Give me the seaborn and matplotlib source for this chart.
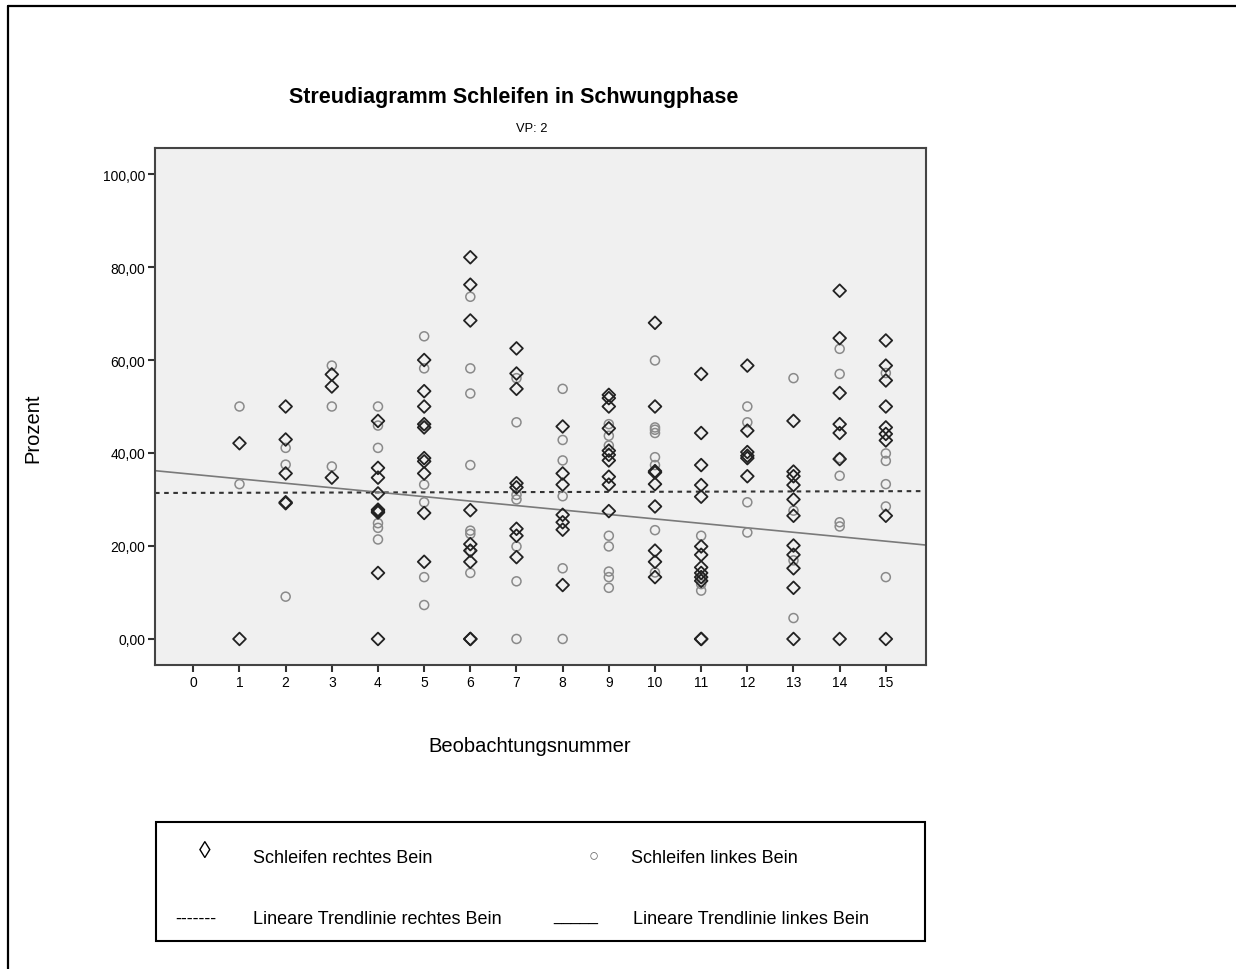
import numpy as np
import pandas as pd
import matplotlib
matplotlib.use("Agg")
import matplotlib.pyplot as plt
from matplotlib.lines import Line2D
from matplotlib.patches import Rectangle
import seaborn as sns

# ---------------- data ----------------
right_leg = {
    1: [42.1, 0.0],
    2: [50.0, 42.9, 35.6, 29.4, 29.2],
    3: [56.9, 54.3, 34.7],
    4: [46.9, 36.8, 34.7, 31.3, 27.8, 27.5, 27.2, 14.2, 0.0],
    5: [60.0, 53.3, 50.0, 46.2, 45.5, 38.9, 38.2, 35.6, 27.1, 16.6],
    6: [82.1, 76.2, 68.5, 27.7, 20.4, 19.0, 16.6, 0.0, 0.0],
    7: [62.5, 57.1, 53.8, 33.5, 32.6, 23.7, 22.2, 17.6],
    8: [45.7, 35.6, 33.2, 26.7, 25.1, 23.5, 11.6],
    9: [52.5, 51.8, 50.0, 45.3, 40.5, 39.6, 38.4, 34.9, 33.2, 27.5],
    10: [68.0, 50.0, 36.1, 35.8, 33.3, 28.5, 19.0, 16.6, 13.3],
    11: [57.0, 44.3, 37.4, 33.1, 30.6, 19.9, 18.1, 15.4, 14.2, 13.3, 12.5, 0.0, 0.0],
    12: [58.8, 44.8, 40.2, 39.4, 38.9, 35.0],
    13: [46.9, 36.0, 35.0, 33.1, 30.0, 26.5, 20.1, 18.1, 15.2, 11.0, 0.0],
    14: [74.9, 64.7, 52.9, 46.2, 44.3, 38.7, 0.0],
    15: [64.2, 58.8, 55.6, 50.0, 45.5, 44.1, 42.7, 26.5, 0.0],
}
left_leg = {
    1: [50.0, 33.3],
    2: [41.1, 37.5, 9.1],
    3: [58.8, 50.0, 37.1],
    4: [50.0, 45.9, 41.1, 24.9, 23.9, 21.4],
    5: [65.1, 58.2, 45.9, 33.2, 29.4, 13.3, 7.3],
    6: [73.6, 58.2, 52.8, 37.4, 23.3, 22.6, 19.0, 14.2],
    7: [56.1, 46.6, 31.0, 30.0, 19.9, 12.4, 0.0],
    8: [53.8, 42.8, 38.4, 30.7, 15.2, 0.0],
    9: [46.2, 43.7, 41.6, 22.2, 19.9, 14.5, 13.3, 11.0],
    10: [59.9, 45.5, 45.0, 44.3, 39.1, 37.4, 23.4, 14.3],
    11: [22.2, 13.0, 11.8, 10.4],
    12: [50.0, 46.6, 29.4, 22.9],
    13: [56.1, 27.6, 16.9, 4.5],
    14: [62.4, 57.0, 38.9, 35.1, 25.1, 24.2],
    15: [57.2, 39.9, 38.3, 33.3, 28.5, 13.3],
}
# linear trend lines: (intercept, slope)
trend_right = (31.42, 0.024)
trend_left = (35.4, -0.958)

x_ticks = list(range(0, 16))
y_ticks = [0, 20, 40, 60, 80, 100]
y_tick_labels = ["0,00", "20,00", "40,00", "60,00", "80,00", "100,00"]

title = "Streudiagramm Schleifen in Schwungphase"
subtitle = "VP: 2"
x_label = "Beobachtungsnummer"
y_label = "Prozent"

# ---------------- build frames ----------------
def to_df(d):
    rows = [(k, v) for k, vals in d.items() for v in vals]
    return pd.DataFrame(rows, columns=["obs", "pct"])

df_r = to_df(right_leg)
df_l = to_df(left_leg)

# ---------------- style ----------------
sns.set_style("ticks")
FONT = ["Liberation Sans", "DejaVu Sans"]
plt.rcParams["font.family"] = FONT
plt.rcParams["text.color"] = "black"
plt.rcParams["xtick.color"] = "black"
plt.rcParams["ytick.color"] = "black"

W, H = 1236, 970
fig = plt.figure(figsize=(W / 100, H / 100), dpi=100)
fig.patch.set_facecolor("white")

def fx(px):
    return px / W

def fy(py):
    return 1 - py / H

ax_l, ax_r, ax_t, ax_b = 155, 926, 149, 666
ax = fig.add_axes([fx(ax_l), fy(ax_b), (ax_r - ax_l) / W, (ax_b - ax_t) / H])
ax.set_facecolor("#f0f0f0")

xlim = (-0.83, 15.87)
ylim = (-5.6, 105.6)

# circles (left leg) first, diamonds (right leg) on top
sns.scatterplot(data=df_l, x="obs", y="pct", ax=ax, marker="o", s=42,
                facecolor="none", edgecolor="#8a8a8a", linewidth=1.1,
                color="#8a8a8a", legend=False, zorder=3)
sns.scatterplot(data=df_r, x="obs", y="pct", ax=ax, marker="D", s=42,
                facecolor="none", edgecolor="#222222", linewidth=1.3,
                color="#222222", legend=False, zorder=4)

# trend lines
xs = np.array(xlim)
tr = pd.DataFrame({"x": xs, "y": trend_right[0] + trend_right[1] * xs})
tl = pd.DataFrame({"x": xs, "y": trend_left[0] + trend_left[1] * xs})
sns.lineplot(data=tr, x="x", y="y", ax=ax, color="#333333", linewidth=1.5,
             linestyle=(0, (2.2, 2.2)), zorder=2)
sns.lineplot(data=tl, x="x", y="y", ax=ax, color="#7a7a7a", linewidth=1.2,
             zorder=2)

ax.set_xlim(*xlim)
ax.set_ylim(*ylim)
ax.set_xticks(x_ticks)
ax.set_xticklabels([str(t) for t in x_ticks])
ax.set_yticks(y_ticks)
ax.set_yticklabels(y_tick_labels)
ax.tick_params(axis="both", direction="out", length=5, width=1.5,
               color="#333333", labelsize=10, labelcolor="black", pad=2)
ax.set_xlabel("")
ax.set_ylabel("")
for sp in ax.spines.values():
    sp.set_visible(True)
    sp.set_color("#444444")
    sp.set_linewidth(1.5)

# titles and labels
fig.text(fx(513.5), fy(97), title, ha="center", va="center", color="black",
         fontsize=15.5, fontweight="bold", family=FONT)
fig.text(fx(532), fy(129), subtitle, ha="center", va="center", color="black",
         fontsize=9.3, family=FONT)
fig.text(fx(530), fy(747), x_label, ha="center", va="center", color="black",
         fontsize=14.5, family=FONT)
fig.text(fx(33), fy(428), y_label, ha="center", va="center", color="black",
         rotation=90, fontsize=14.5, family=FONT)

# legend box (text-style)
fig.add_artist(Rectangle((fx(156), fy(942)), (925 - 156) / W, (942 - 823) / H,
                         transform=fig.transFigure, fill=False,
                         edgecolor="black", linewidth=1.5))
LS = 13
fig.text(fx(205), fy(852), "\u25CA", ha="center", va="center", fontsize=17, color="black", family=FONT)
fig.text(fx(253), fy(859), "Schleifen rechtes Bein", ha="left", va="center", fontsize=LS, color="black", family=FONT)
fig.text(fx(594), fy(857), "\u25CB", ha="center", va="center", fontsize=12, color="#666666", family=FONT)
fig.text(fx(631), fy(859), "Schleifen linkes Bein", ha="left", va="center", fontsize=LS, color="black", family=FONT)
fig.text(fx(175), fy(919), "-------", ha="left", va="center", fontsize=LS, color="black", family=FONT)
fig.text(fx(253), fy(920), "Lineare Trendlinie rechtes Bein", ha="left", va="center", fontsize=LS, color="black", family=FONT)
fig.text(fx(553), fy(918), "_____", ha="left", va="center", fontsize=11.5, color="black", family=FONT)
fig.text(fx(633), fy(920), "Lineare Trendlinie linkes Bein", ha="left", va="center", fontsize=LS, color="black", family=FONT)

# outer frame (top and left edges)
fig.add_artist(Line2D([fx(8), 1.0], [fy(7), fy(7)], transform=fig.transFigure,
                      color="black", linewidth=1.6))
fig.add_artist(Line2D([fx(8), fx(8)], [fy(7), 0.0], transform=fig.transFigure,
                      color="black", linewidth=1.6))

fig.savefig("out.png", dpi=100, facecolor="white")
